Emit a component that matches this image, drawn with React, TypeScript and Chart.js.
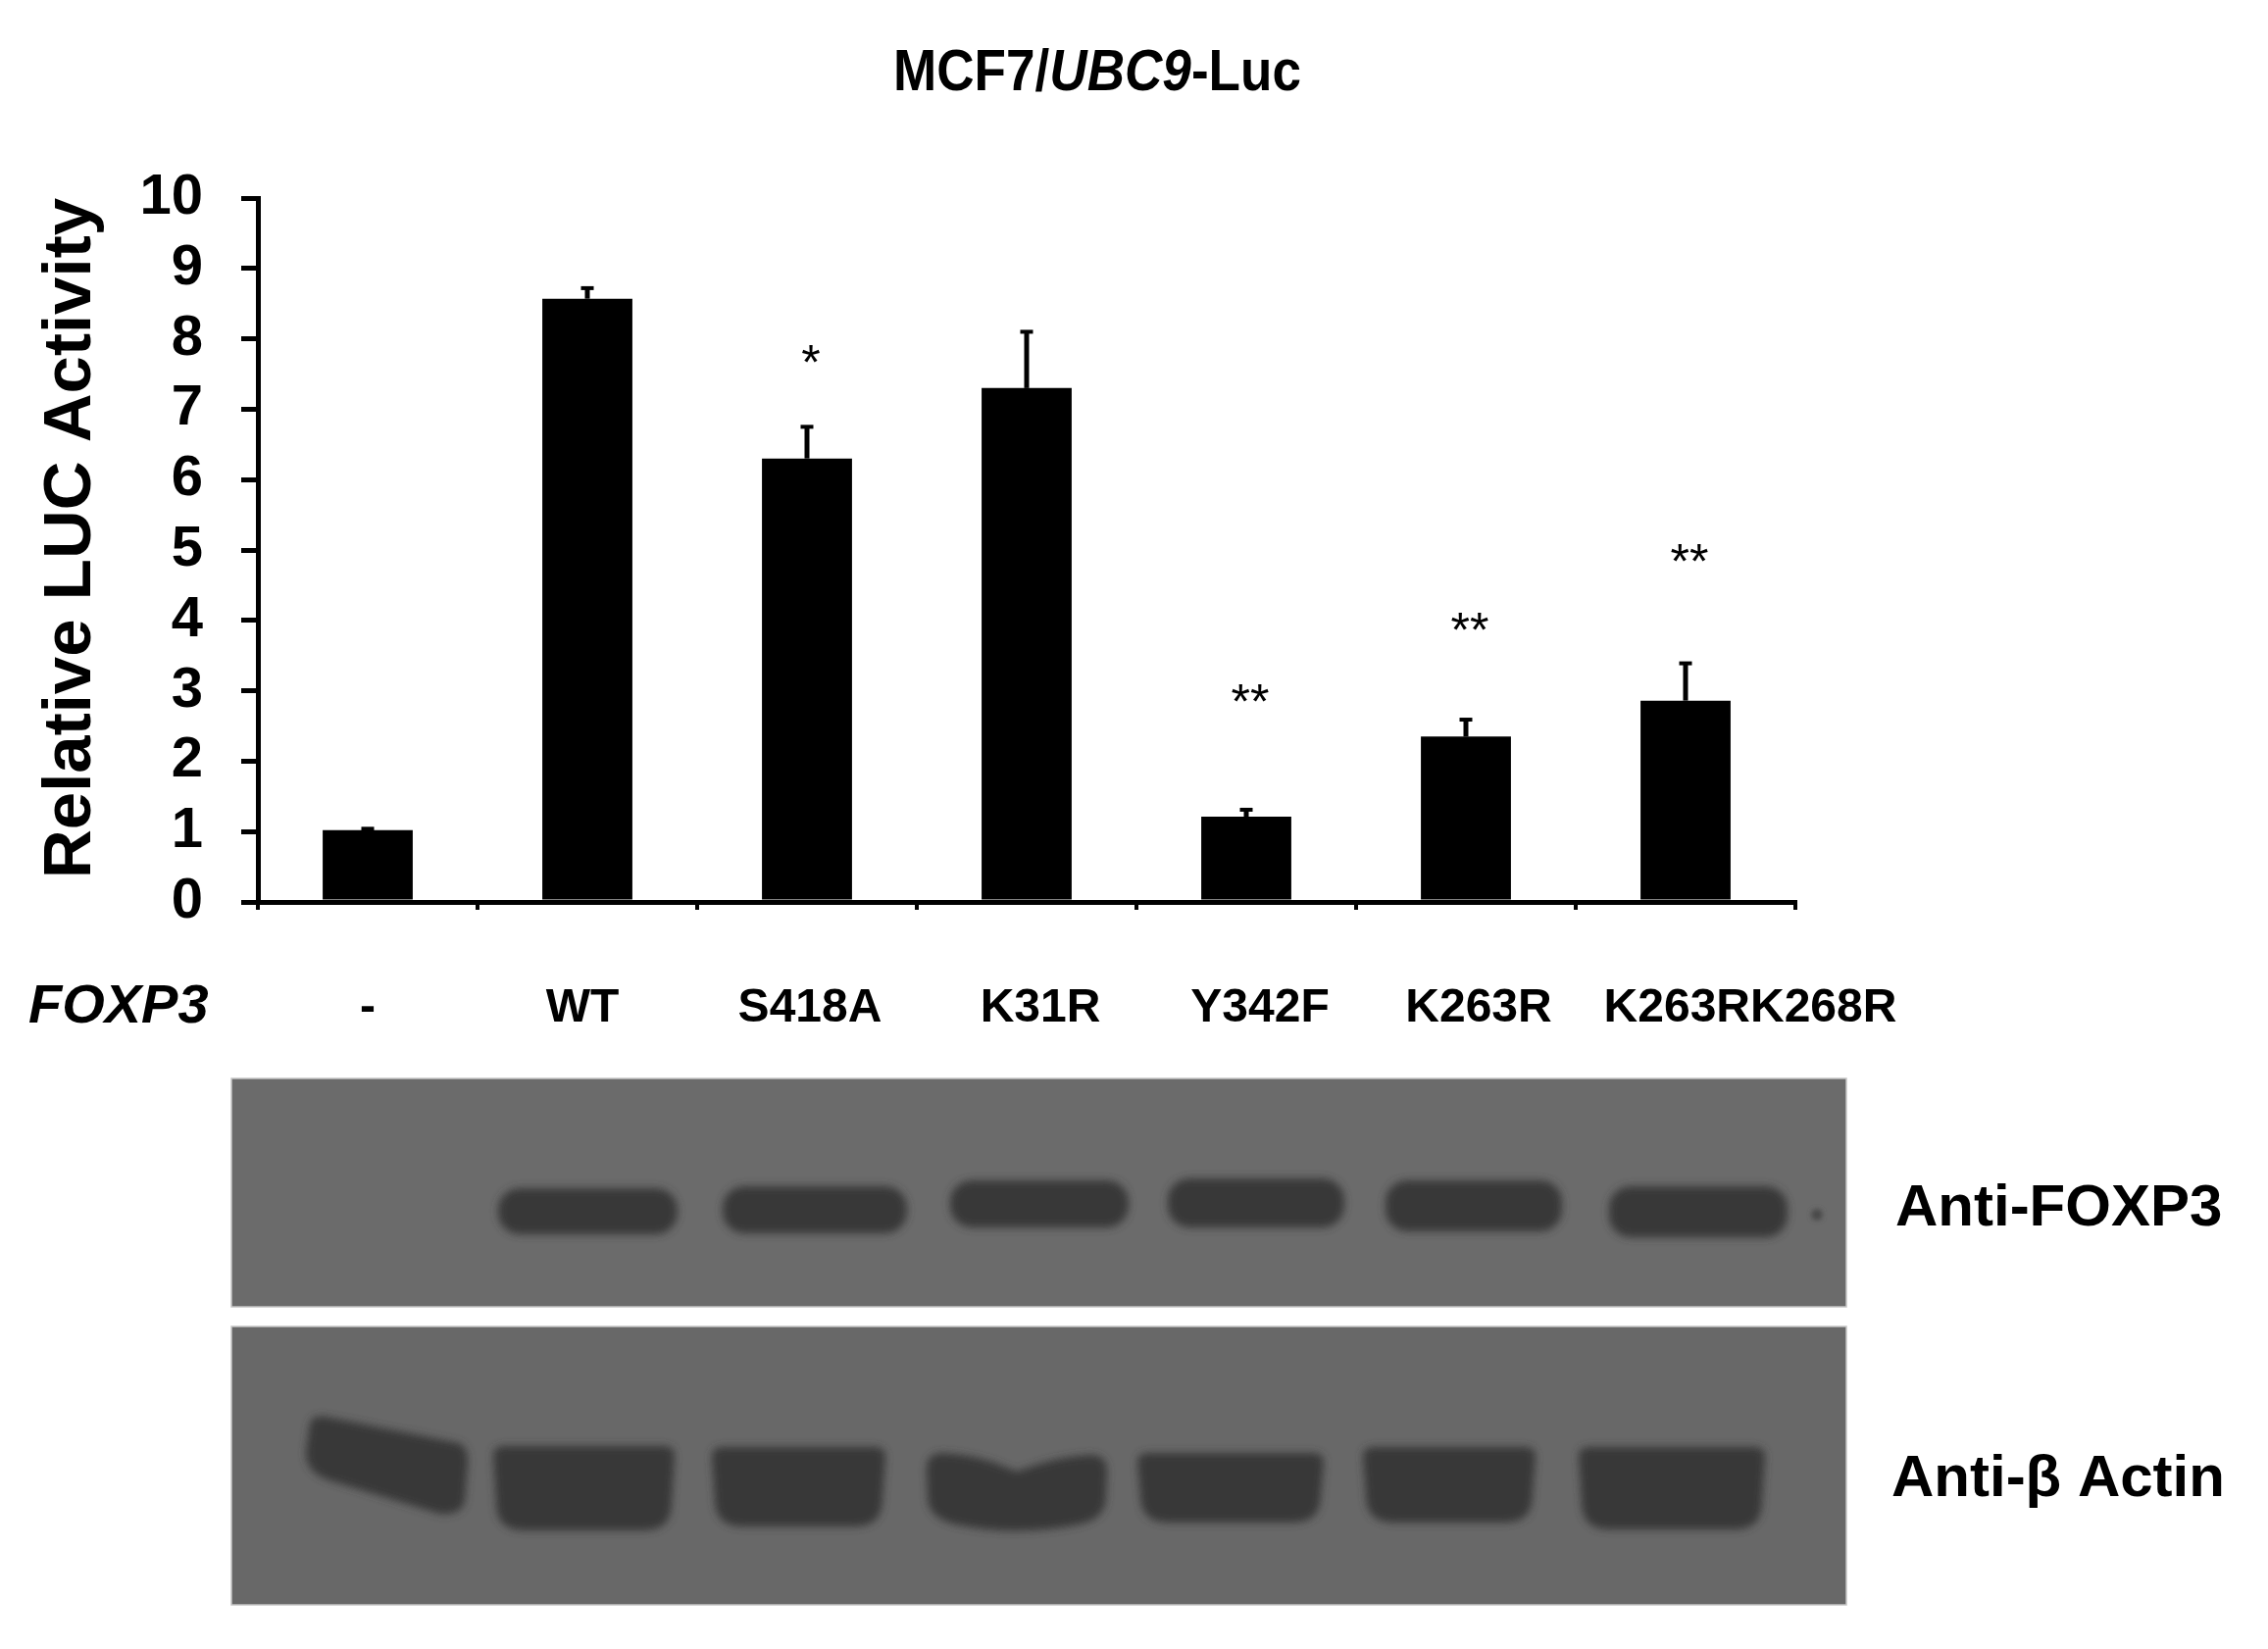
import React, { useEffect, useRef } from 'react';
import { Chart, registerables } from 'chart.js';

Chart.register(...registerables);

// ---------- data ----------
const CATEGORIES = ['-', 'WT', 'S418A', 'K31R', 'Y342F', 'K263R', 'K263RK268R'];
const MEAN_ACTIVITY = [1.02, 8.57, 6.3, 7.3, 1.21, 2.35, 2.86];
const SEM_ACTIVITY = [0.02, 0.15, 0.45, 0.8, 0.1, 0.24, 0.53];
const SIGNIFICANCE = ['', '', '*', '', '**', '**', '**'];
const SIGNIFICANCE_LEVEL: (number | null)[] = [null, null, 7.83, null, 3.0, 4.02, 4.99];
const Y_TICKS = [0, 1, 2, 3, 4, 5, 6, 7, 8, 9, 10];
const Y_TITLE = 'Relative LUC Activity';
const ROW_LABEL = 'FOXP3';
const BLOT_LABELS = ['Anti-FOXP3', 'Anti-β Actin'];

// ---------- style / layout ----------
const FONT = '"Liberation Sans", Arial, Helvetica, sans-serif';
// horizontal nudge (px) of each category label relative to its category centre, as in the figure
const LABEL_NUDGE = [0, -5, 3, 14, 14, 13, 66];
const LABEL_CENTER_Y = 1029;

const annotationPlugin = {
  id: 'errorBarsStarsLabels',
  afterDatasetsDraw(chart: any) {
    const ctx = chart.ctx;
    const meta = chart.getDatasetMeta(0);
    const y = chart.scales.y;
    ctx.save();
    ctx.strokeStyle = '#000';
    ctx.fillStyle = '#000';
    meta.data.forEach((bar: any, i: number) => {
      const x = bar.x;
      const y0 = y.getPixelForValue(MEAN_ACTIVITY[i]);
      const y1 = y.getPixelForValue(MEAN_ACTIVITY[i] + SEM_ACTIVITY[i]);
      ctx.lineWidth = 5;
      ctx.beginPath();
      ctx.moveTo(x, y0);
      ctx.lineTo(x, y1);
      ctx.stroke();
      ctx.lineWidth = 4;
      ctx.beginPath();
      ctx.moveTo(x - 6.5, y1);
      ctx.lineTo(x + 6.5, y1);
      ctx.stroke();
      const lvl = SIGNIFICANCE_LEVEL[i];
      if (SIGNIFICANCE[i] && lvl !== null) {
        const size = 50;
        ctx.font = `normal ${size}px ${FONT}`;
        ctx.textAlign = 'center';
        ctx.textBaseline = 'alphabetic';
        ctx.fillText(SIGNIFICANCE[i], x + 4, y.getPixelForValue(lvl) + 0.575 * size);
      }
    });
    ctx.restore();
  },
  afterDraw(chart: any) {
    const ctx = chart.ctx;
    const xs = chart.scales.x;
    ctx.save();
    ctx.fillStyle = '#000';
    ctx.font = `bold 48px ${FONT}`;
    ctx.textAlign = 'center';
    ctx.textBaseline = 'middle';
    CATEGORIES.forEach((label, i) => {
      ctx.fillText(label, xs.getPixelForValue(i) + LABEL_NUDGE[i], LABEL_CENTER_Y);
    });
    ctx.restore();
  },
};

// ---------- blot geometry (image, not data) ----------
const FOXP3_BANDS = [
  [508, 691, 1212, 1259],
  [737, 925, 1210, 1258],
  [969, 1151, 1204, 1252],
  [1191, 1371, 1202, 1252],
  [1413, 1593, 1204, 1256],
  [1641, 1823, 1210, 1262],
];
const ACTIN_BANDS = [
  [503, 688, 1475, 1561],
  [726, 903, 1476, 1557],
  [1160, 1350, 1482, 1553],
  [1390, 1566, 1476, 1553],
  [1610, 1800, 1476, 1560],
];

const actinPath = (x1: number, x2: number, y1: number, y2: number) => {
  const rt = 10;
  const rb = 28;
  return `M ${x1} ${y1 + rt} Q ${x1} ${y1} ${x1 + rt} ${y1} L ${x2 - rt} ${y1} Q ${x2} ${y1} ${x2} ${y1 + rt} L ${x2 - 3} ${y2 - rb} Q ${x2 - 3} ${y2} ${x2 - 3 - rb} ${y2} L ${x1 + 3 + rb} ${y2} Q ${x1 + 3} ${y2} ${x1 + 3} ${y2 - rb} Z`;
};

const LANE1_ACTIN = 'M 316 1452 Q 318 1443 332 1445 L 468 1472 Q 478 1476 477 1492 L 474 1532 Q 470 1546 448 1544 L 336 1510 Q 311 1502 312 1480 Z';
const K31R_ACTIN = 'M 945 1498 Q 945 1482 962 1482 Q 1000 1484 1037 1501 Q 1075 1486 1112 1484 Q 1129 1484 1129 1500 L 1128 1528 Q 1127 1550 1100 1555 Q 1037 1568 975 1555 Q 947 1549 946 1528 Z';

export default function App() {
  const canvasRef = useRef<HTMLCanvasElement>(null);

  useEffect(() => {
    const canvas = canvasRef.current;
    if (!canvas) return;
    const chart = new Chart(canvas, {
      type: 'bar',
      data: {
        labels: CATEGORIES,
        datasets: [
          {
            label: 'Relative LUC Activity',
            data: MEAN_ACTIVITY,
            backgroundColor: '#000',
            borderWidth: 0,
            barPercentage: 0.41,
            categoryPercentage: 1,
          },
        ],
      },
      options: {
        responsive: false,
        maintainAspectRatio: false,
        animation: false,
        devicePixelRatio: 1,
        layout: { padding: { top: 202, left: 0, right: 482, bottom: 0 } },
        plugins: {
          legend: { display: false },
          tooltip: { enabled: false },
          title: { display: false },
        },
        scales: {
          x: {
            type: 'category',
            offset: true,
            grid: {
              display: true,
              offset: true,
              drawOnChartArea: false,
              drawTicks: true,
              tickLength: 8,
              lineWidth: 4,
              color: '#000',
            },
            border: { display: true, color: '#000', width: 5 },
            ticks: { display: false, autoSkip: false, maxRotation: 0, minRotation: 0 },
            afterFit: (s: any) => {
              s.height = 180;
              s.paddingLeft = 0;
              s.paddingRight = 0;
            },
          },
          y: {
            min: Y_TICKS[0],
            max: Y_TICKS[Y_TICKS.length - 1],
            afterBuildTicks: (s: any) => {
              s.ticks = Y_TICKS.map((v) => ({ value: v }));
            },
            ticks: {
              autoSkip: false,
              padding: 39,
              color: '#000',
              font: { family: FONT, size: 58, weight: 'bold' },
            },
            grid: {
              drawOnChartArea: false,
              drawTicks: true,
              tickLength: 17,
              lineWidth: 5,
              color: '#000',
            },
            border: { display: true, color: '#000', width: 5 },
            title: {
              display: true,
              text: Y_TITLE,
              align: 'end',
              color: '#000',
              font: { family: FONT, size: 69, weight: 'bold' },
              padding: { top: 32, bottom: 0 },
            },
            afterFit: (s: any) => {
              s.width = 263;
              s.paddingTop = 0;
              s.paddingBottom = 0;
            },
          },
        },
      },
      plugins: [annotationPlugin],
    } as any);
    return () => chart.destroy();
  }, []);

  return (
    <div
      style={{
        position: 'absolute',
        left: 0,
        top: 0,
        width: 2313,
        height: 1682,
        background: '#fff',
        overflow: 'hidden',
        fontFamily: FONT,
        color: '#000',
      }}
    >
      <canvas
        ref={canvasRef}
        width={2313}
        height={1100}
        style={{ position: 'absolute', left: 0, top: 0, width: 2313, height: 1100, display: 'block' }}
      />

      {/* chart title */}
      <div
        style={{
          position: 'absolute',
          left: 819,
          top: 42,
          width: 600,
          textAlign: 'center',
          fontSize: 60,
          lineHeight: '60px',
          fontWeight: 'bold',
          whiteSpace: 'nowrap',
          transform: 'scaleX(0.885)',
          transformOrigin: 'center',
        }}
      >
        MCF7/<i>UBC9</i>-Luc
      </div>

      {/* row label */}
      <div
        style={{
          position: 'absolute',
          left: 29,
          top: 996,
          fontSize: 56,
          lineHeight: '56px',
          fontWeight: 'bold',
          fontStyle: 'italic',
          whiteSpace: 'nowrap',
        }}
      >
        {ROW_LABEL}
      </div>

      {/* western blots */}
      <svg
        width={2313}
        height={1682}
        viewBox="0 0 2313 1682"
        style={{ position: 'absolute', left: 0, top: 0, pointerEvents: 'none' }}
      >
        <defs>
          <filter id="bandBlur" x="-20%" y="-60%" width="140%" height="220%">
            <feGaussianBlur stdDeviation="4" />
          </filter>
          <filter id="dotBlur" x="-100%" y="-100%" width="300%" height="300%">
            <feGaussianBlur stdDeviation="2.5" />
          </filter>
        </defs>
        <rect x={236} y={1100} width={1647} height={233} fill="#6b6b6b" stroke="#c6c6c6" strokeWidth={1.5} />
        <rect x={236} y={1353} width={1647} height={284} fill="#686868" stroke="#c6c6c6" strokeWidth={1.5} />
        <g filter="url(#bandBlur)" fill="#373737">
          {FOXP3_BANDS.map(([x1, x2, y1, y2], i) => (
            <rect key={'f' + i} x={x1} y={y1} width={x2 - x1} height={y2 - y1} rx={22} ry={22} />
          ))}
          {ACTIN_BANDS.map(([x1, x2, y1, y2], i) => (
            <path key={'a' + i} d={actinPath(x1, x2, y1, y2)} />
          ))}
          <path d={LANE1_ACTIN} />
          <path d={K31R_ACTIN} />
        </g>
        <circle cx={1853} cy={1239} r={6} fill="#4a4a4a" filter="url(#dotBlur)" />
      </svg>

      {/* blot labels */}
      <div
        style={{
          position: 'absolute',
          left: 1933,
          top: 1200,
          fontSize: 60,
          lineHeight: '60px',
          fontWeight: 'bold',
          whiteSpace: 'nowrap',
        }}
      >
        {BLOT_LABELS[0]}
      </div>
      <div
        style={{
          position: 'absolute',
          left: 1929,
          top: 1476,
          fontSize: 60,
          lineHeight: '60px',
          fontWeight: 'bold',
          whiteSpace: 'nowrap',
        }}
      >
        {BLOT_LABELS[1]}
      </div>
    </div>
  );
}
